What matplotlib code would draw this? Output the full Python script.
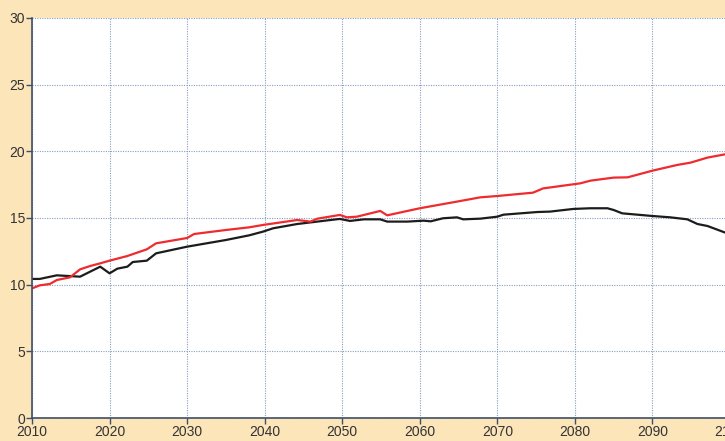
import matplotlib.pyplot as plt

# red series
red_years = [2010, 2011, 2012.3, 2013.2, 2014.9, 2016.2, 2017.5, 2018.8, 2020, 2022.3,
             2024.8, 2026, 2030, 2030.9, 2035, 2038, 2039.8, 2044.2, 2045.9, 2046.8,
             2049.7, 2050.6, 2051.9, 2054.9, 2055.8, 2060, 2064.8, 2067.8, 2070,
             2074.6, 2075.9, 2080.7, 2082, 2085, 2086.8, 2090, 2093.2, 2094.9,
             2097.1, 2099.4, 2100]
red_vals = [9.72, 9.95, 10.05, 10.35, 10.55, 11.15, 11.4, 11.6, 11.8, 12.15,
            12.65, 13.1, 13.5, 13.8, 14.1, 14.3, 14.48, 14.85, 14.73, 14.95,
            15.23, 15.05, 15.1, 15.53, 15.2, 15.73, 16.23, 16.55, 16.65,
            16.9, 17.22, 17.6, 17.8, 18.03, 18.05, 18.55, 18.98, 19.15,
            19.53, 19.78, 19.8]

# black series
black_years = [2010, 2011, 2013.2, 2016.2, 2018.8, 2020, 2021, 2022.3, 2023, 2024.8,
               2026, 2030, 2035, 2038, 2039.8, 2041.1, 2044.2, 2048.5, 2049.7, 2051,
               2052.8, 2054.9, 2055.8, 2058.4, 2060.5, 2061.4, 2063, 2064.8, 2065.6,
               2067.8, 2070, 2070.8, 2075.2, 2076.8, 2079.8, 2082, 2084.2, 2085,
               2086.1, 2090, 2092.3, 2094.5, 2095.8, 2097.1, 2099.4, 2100]
black_vals = [10.43, 10.43, 10.7, 10.6, 11.35, 10.85, 11.2, 11.35, 11.7, 11.8,
              12.35, 12.85, 13.35, 13.7, 13.98, 14.23, 14.55, 14.85, 14.93, 14.78,
              14.9, 14.9, 14.73, 14.73, 14.8, 14.75, 14.98, 15.05, 14.9,
              14.95, 15.1, 15.25, 15.45, 15.48, 15.68, 15.73, 15.73, 15.6,
              15.35, 15.15, 15.05, 14.9, 14.55, 14.4, 13.9, 13.8]

x_ticks = list(range(2010, 2101, 10))
y_ticks = [0, 5, 10, 15, 20, 25, 30]

plt.rcParams['font.family'] = ['Liberation Sans', 'DejaVu Sans']

fig = plt.figure(figsize=(7.25, 4.41), dpi=100, facecolor='#FDE5BA')
ax = fig.add_axes([32/725, 23/441, 698/725, 400/441])
ax.set_facecolor('white')

ax.plot(black_years, black_vals, color='#1c1c1c', lw=1.6)
ax.plot(red_years, red_vals, color='#EE2B2F', lw=1.6)

ax.set_xlim(2010, 2100)
ax.set_ylim(0, 30)
ax.set_xticks(x_ticks)
ax.set_yticks(y_ticks)
ax.grid(True, linestyle=(0, (1, 1.2)), color='#8A9CBE', lw=0.8)

for s in ['top', 'right']:
    ax.spines[s].set_visible(False)
for s in ['left', 'bottom']:
    ax.spines[s].set_color('#3E4F6A')
    ax.spines[s].set_linewidth(1.2)

ax.tick_params(axis='both', colors='#3E4F6A', labelcolor='#333333',
               labelsize=10, length=4, width=1, pad=1)

plt.savefig('out.png', dpi=100, facecolor=fig.get_facecolor())
